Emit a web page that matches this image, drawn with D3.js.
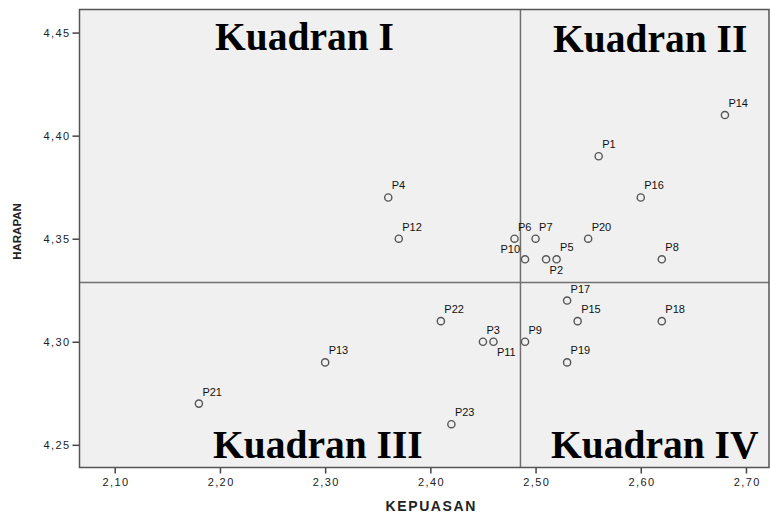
<!DOCTYPE html>
<html>
<head>
<meta charset="utf-8">
<script src="https://cdn.jsdelivr.net/npm/d3@7"></script>
<style>
  body { margin: 0; background: #fff; }
  svg text { font-family: "Liberation Sans", Arial, sans-serif; }
</style>
</head>
<body>
<div id="chart"></div>
<script>
// data
var names = ["P1","P2","P3","P4","P5","P6","P7","P8","P9","P10","P11","P12",
             "P13","P14","P15","P16","P17","P18","P19","P20","P21","P22","P23"];
var kepuasan = [2.56, 2.51, 2.45, 2.36, 2.52, 2.48, 2.50, 2.62, 2.49, 2.49, 2.46, 2.37,
                2.30, 2.68, 2.54, 2.60, 2.53, 2.62, 2.53, 2.55, 2.18, 2.41, 2.42];
var harapan = [4.39, 4.34, 4.30, 4.37, 4.34, 4.35, 4.35, 4.34, 4.30, 4.34, 4.30, 4.35,
               4.29, 4.41, 4.31, 4.37, 4.32, 4.31, 4.29, 4.35, 4.27, 4.31, 4.26];
var xTicks = [2.10, 2.20, 2.30, 2.40, 2.50, 2.60, 2.70];
var yTicks = [4.25, 4.30, 4.35, 4.40, 4.45];
var quadrantNames = ["Kuadran I", "Kuadran II", "Kuadran III", "Kuadran IV"];

// labels that do not sit at the upper right of their point
var labelSide = {P2: "below", P11: "below", P10: "left"};

var W = 770, H = 514;
var margin = {top: 9.5, right: 1, bottom: 46.5, left: 79.5};
var width = W - margin.left - margin.right,
    height = H - margin.top - margin.bottom;

var points = names.map(function(n, i) {
  return {name: n, x: kepuasan[i], y: harapan[i]};
});

var x = d3.scaleLinear().domain([2.0665, 2.7219]).range([0, width]);
var y = d3.scaleLinear().domain([4.2390, 4.4612]).range([height, 0]);

var comma = d3.formatLocale({decimal: ",", thousands: ".", grouping: [3], currency: ["", ""]}).format(".2f");

var svg = d3.select("#chart").append("svg")
    .attr("width", W)
    .attr("height", H)
  .append("g")
    .attr("transform", "translate(" + margin.left + "," + margin.top + ")");

// plot background
svg.append("rect")
    .attr("width", width)
    .attr("height", height)
    .attr("fill", "#f0f0f0");

// axes
var xAxis = svg.append("g")
    .attr("transform", "translate(0," + height + ")")
    .call(d3.axisBottom(x).tickValues(xTicks).tickFormat(comma).tickSize(6).tickSizeOuter(0));
var yAxis = svg.append("g")
    .call(d3.axisLeft(y).tickValues(yTicks).tickFormat(comma).tickSize(7).tickSizeOuter(0));

[xAxis, yAxis].forEach(function(a) {
  a.select(".domain").remove();
  a.selectAll(".tick line").attr("stroke", "#444").attr("stroke-width", 1.5);
  a.selectAll(".tick text")
      .attr("fill", "#222")
      .style("font-size", "11px")
      .style("letter-spacing", "1.4px");
});
xAxis.selectAll(".tick text").attr("dy", "0.71em").attr("y", 10.5).attr("dx", 0.7);
yAxis.selectAll(".tick text").attr("x", -9);

// reference lines at the means
var mx = d3.mean(kepuasan), my = d3.mean(harapan);
svg.append("line")
    .attr("x1", x(mx)).attr("x2", x(mx))
    .attr("y1", 0).attr("y2", height)
    .attr("stroke", "#707070").attr("stroke-width", 1.5);
svg.append("line")
    .attr("x1", 0).attr("x2", width)
    .attr("y1", y(my)).attr("y2", y(my))
    .attr("stroke", "#707070").attr("stroke-width", 1.5);

// frame
svg.append("rect")
    .attr("width", width)
    .attr("height", height)
    .attr("fill", "none")
    .attr("stroke", "#555")
    .attr("stroke-width", 1.5);

// points
svg.selectAll(".dot")
    .data(points)
  .enter().append("circle")
    .attr("class", "dot")
    .attr("cx", function(d) { return x(d.x); })
    .attr("cy", function(d) { return y(d.y); })
    .attr("r", 3.6)
    .attr("fill", "none")
    .attr("stroke", "#555")
    .attr("stroke-width", 1.4);

svg.selectAll(".lbl")
    .data(points)
  .enter().append("text")
    .attr("class", "lbl")
    .attr("x", function(d) {
      return labelSide[d.name] == "left" ? x(d.x) - 5 : x(d.x) + 3.5;
    })
    .attr("y", function(d) {
      var s = labelSide[d.name];
      if (s == "below") return y(d.y) + 14.5;
      if (s == "left") return y(d.y) - 6;
      return y(d.y) - 8;
    })
    .attr("text-anchor", function(d) { return labelSide[d.name] == "left" ? "end" : "start"; })
    .style("font-size", "11px")
    .attr("fill", "#111")
    .text(function(d) { return d.name; });

// quadrant titles
var qPos = [[135.5, 40.5], [473.5, 42], [133.5, 448], [471.5, 448]];
svg.selectAll(".quad")
    .data(quadrantNames)
  .enter().append("text")
    .attr("class", "quad")
    .attr("x", function(d, i) { return qPos[i][0]; })
    .attr("y", function(d, i) { return qPos[i][1]; })
    .style("font-family", "'Liberation Serif', 'Times New Roman', serif")
    .style("font-weight", "bold")
    .style("font-size", "39.5px")
    .attr("fill", "#000")
    .text(function(d) { return d; });

// axis titles
svg.append("text")
    .attr("x", width / 2 + 7)
    .attr("y", height + 43)
    .attr("text-anchor", "middle")
    .style("font-size", "14px")
    .style("font-weight", "bold")
    .style("letter-spacing", "1.6px")
    .attr("fill", "#222")
    .text("KEPUASAN");

svg.append("text")
    .attr("transform", "translate(" + (-59) + "," + 222 + ") rotate(-90)")
    .attr("text-anchor", "middle")
    .style("font-size", "11.5px")
    .style("font-weight", "bold")
    .attr("fill", "#222")
    .text("HARAPAN");
</script>
</body>
</html>
